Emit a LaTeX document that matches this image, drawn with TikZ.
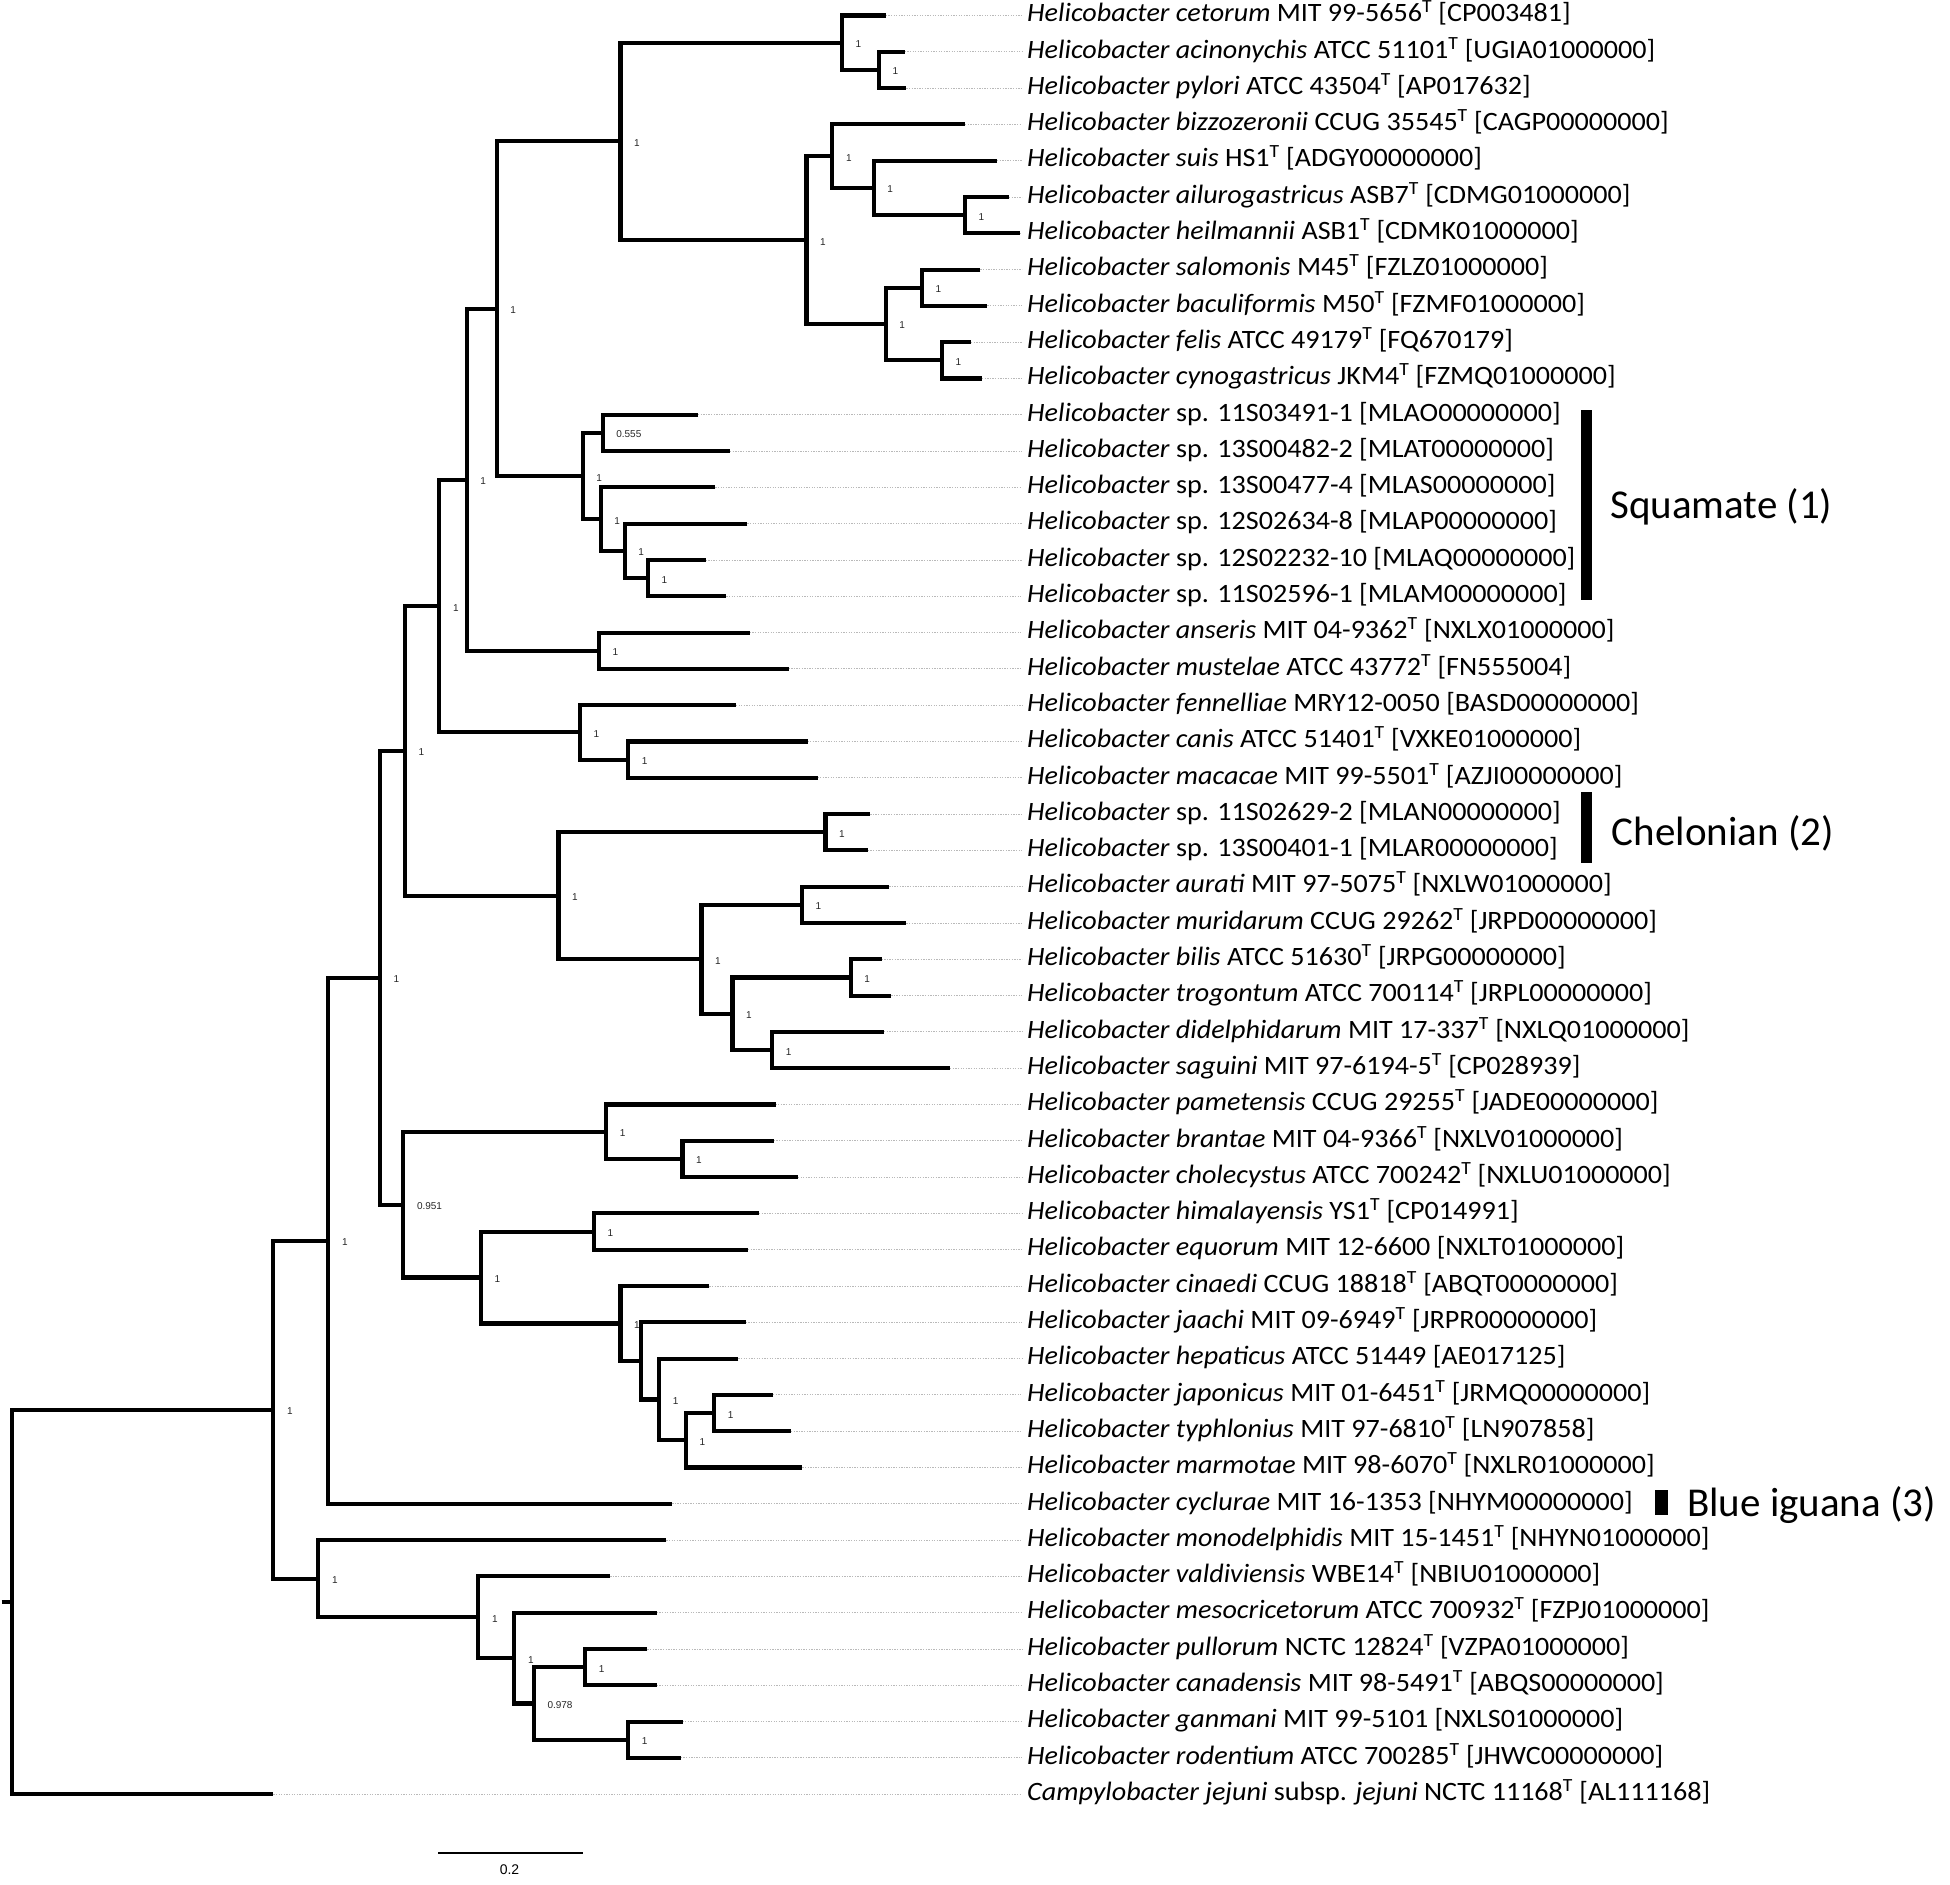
\documentclass[tikz,border=0pt]{standalone}
\usepackage{fontspec}
\setmainfont{Carlito}
\newfontfamily\labfont{Carlito}[FakeStretch=1.06]
\newfontfamily\supfont{Liberation Sans}
\tikzset{
 br/.style={line width=4.1pt, line join=miter, line cap=butt},
 leader/.style={draw=gray!55, line width=0.9pt, dash pattern=on 1.3pt off 1.3pt, shorten >=5pt},
 lab/.style={anchor=west, inner sep=0pt, text height=18.5pt, text depth=6pt, font=\labfont\fontsize{26.5}{30}\selectfont},
 suplab/.style={anchor=west, inner sep=0pt, font=\supfont\fontsize{10}{12}\selectfont, text=black!85},
 grp/.style={anchor=base west, inner sep=0pt, font=\fontsize{41}{48}\selectfont},
 gbar/.style={fill=black, draw=none, inner sep=0pt, minimum width=11pt},
 sbar/.style={line width=1.8pt},
 sbl/.style={inner sep=0pt, font=\supfont\fontsize{14}{16}\selectfont},
}
\newcommand\mkleaf[3]{%
  \pgfmathsetmacro\rowy{15.5+36.3*(#1-1)}%
  \coordinate (t#1) at (#2,\rowy);%
  \node[lab] (l#1) at (1027,\rowy) {#3};%
  \draw[leader] (t#1) -- (l#1.west);%
}
\newcommand\inode[6]{%
  \coordinate (#1) at (#2,#3);%
  \draw[br] (#4) -| (#1) |- (#5);%
  \node[suplab] (s#1) at ([xshift=13.5pt,yshift=-1.5pt]#1) {#6};%
}
\newcommand\inodeq[5]{%
  \coordinate (#1) at (#2,#3);%
  \draw[br] (#4) -| (#1) |- (#5);%
}
\newcommand\T{\textsuperscript{T}}
\newcommand\Hb{\textit{Helicobacter}}
\begin{document}
\begin{tikzpicture}[x=1pt,y=-1pt]
\useasboundingbox (0,0) rectangle (1950,1884);
% leaves
\mkleaf{1}{885.7}{\textit{Helicobacter cetorum} MIT 99-5656\T{} [CP003481]}
\mkleaf{2}{904.7}{\textit{Helicobacter acinonychis} ATCC 51101\T{} [UGIA01000000]}
\mkleaf{3}{906.4}{\textit{Helicobacter pylori} ATCC 43504\T{} [AP017632]}
\mkleaf{4}{965}{\textit{Helicobacter bizzozeronii} CCUG 35545\T{} [CAGP00000000]}
\mkleaf{5}{997}{\textit{Helicobacter suis} HS1\T{} [ADGY00000000]}
\mkleaf{6}{1009}{\textit{Helicobacter ailurogastricus} ASB7\T{} [CDMG01000000]}
\mkleaf{7}{1020}{\textit{Helicobacter heilmannii} ASB1\T{} [CDMK01000000]}
\mkleaf{8}{980.4}{\textit{Helicobacter salomonis} M45\T{} [FZLZ01000000]}
\mkleaf{9}{987.3}{\textit{Helicobacter baculiformis} M50\T{} [FZMF01000000]}
\mkleaf{10}{971}{\textit{Helicobacter felis} ATCC 49179\T{} [FQ670179]}
\mkleaf{11}{982}{\textit{Helicobacter cynogastricus} JKM4\T{} [FZMQ01000000]}
\mkleaf{12}{698}{\Hb{} sp. 11S03491-1 [MLAO00000000]}
\mkleaf{13}{730}{\Hb{} sp. 13S00482-2 [MLAT00000000]}
\mkleaf{14}{715.3}{\Hb{} sp. 13S00477-4 [MLAS00000000]}
\mkleaf{15}{747.3}{\Hb{} sp. 12S02634-8 [MLAP00000000]}
\mkleaf{16}{705.6}{\Hb{} sp. 12S02232-10 [MLAQ00000000]}
\mkleaf{17}{726.3}{\Hb{} sp. 11S02596-1 [MLAM00000000]}
\mkleaf{18}{749.7}{\textit{Helicobacter anseris} MIT 04-9362\T{} [NXLX01000000]}
\mkleaf{19}{788.6}{\textit{Helicobacter mustelae} ATCC 43772\T{} [FN555004]}
\mkleaf{20}{735.9}{\textit{Helicobacter fennelliae} MRY12-0050 [BASD00000000]}
\mkleaf{21}{807.5}{\textit{Helicobacter canis} ATCC 51401\T{} [VXKE01000000]}
\mkleaf{22}{817.5}{\textit{Helicobacter macacae} MIT 99-5501\T{} [AZJI00000000]}
\mkleaf{23}{870.2}{\Hb{} sp. 11S02629-2 [MLAN00000000]}
\mkleaf{24}{867.8}{\Hb{} sp. 13S00401-1 [MLAR00000000]}
\mkleaf{25}{889.2}{\textit{Helicobacter aurati} MIT 97-5075\T{} [NXLW01000000]}
\mkleaf{26}{906.4}{\textit{Helicobacter muridarum} CCUG 29262\T{} [JRPD00000000]}
\mkleaf{27}{881.6}{\textit{Helicobacter bilis} ATCC 51630\T{} [JRPG00000000]}
\mkleaf{28}{891.2}{\textit{Helicobacter trogontum} ATCC 700114\T{} [JRPL00000000]}
\mkleaf{29}{884}{\textit{Helicobacter didelphidarum} MIT 17-337\T{} [NXLQ01000000]}
\mkleaf{30}{950.1}{\textit{Helicobacter saguini} MIT 97-6194-5\T{} [CP028939]}
\mkleaf{31}{775.5}{\textit{Helicobacter pametensis} CCUG 29255\T{} [JADE00000000]}
\mkleaf{32}{773.8}{\textit{Helicobacter brantae} MIT 04-9366\T{} [NXLV01000000]}
\mkleaf{33}{797.9}{\textit{Helicobacter cholecystus} ATCC 700242\T{} [NXLU01000000]}
\mkleaf{34}{759}{\textit{Helicobacter himalayensis} YS1\T{} [CP014991]}
\mkleaf{35}{748}{\textit{Helicobacter equorum} MIT 12-6600 [NXLT01000000]}
\mkleaf{36}{709.4}{\textit{Helicobacter cinaedi} CCUG 18818\T{} [ABQT00000000]}
\mkleaf{37}{745.6}{\textit{Helicobacter jaachi} MIT 09-6949\T{} [JRPR00000000]}
\mkleaf{38}{738.3}{\textit{Helicobacter hepaticus} ATCC 51449 [AE017125]}
\mkleaf{39}{773.1}{\textit{Helicobacter japonicus} MIT 01-6451\T{} [JRMQ00000000]}
\mkleaf{40}{791}{\textit{Helicobacter typhlonius} MIT 97-6810\T{} [LN907858]}
\mkleaf{41}{802.4}{\textit{Helicobacter marmotae} MIT 98-6070\T{} [NXLR01000000]}
\mkleaf{42}{672.2}{\textit{Helicobacter cyclurae} MIT 16-1353 [NHYM00000000]}
\mkleaf{43}{666.3}{\textit{Helicobacter monodelphidis} MIT 15-1451\T{} [NHYN01000000]}
\mkleaf{44}{610.2}{\textit{Helicobacter valdiviensis} WBE14\T{} [NBIU01000000]}
\mkleaf{45}{656.7}{\textit{Helicobacter mesocricetorum} ATCC 700932\T{} [FZPJ01000000]}
\mkleaf{46}{647.4}{\textit{Helicobacter pullorum} NCTC 12824\T{} [VZPA01000000]}
\mkleaf{47}{656.7}{\textit{Helicobacter canadensis} MIT 98-5491\T{} [ABQS00000000]}
\mkleaf{48}{682.5}{\textit{Helicobacter ganmani} MIT 99-5101 [NXLS01000000]}
\mkleaf{49}{680.8}{\textit{Helicobacter rodentium} ATCC 700285\T{} [JHWC00000000]}
\mkleaf{50}{273.3}{\textit{Campylobacter jejuni} subsp. \textit{jejuni} NCTC 11168\T{} [AL111168]}
% internal nodes (bottom-up)
\inode{nV}{878.8}{69.95}{t2}{t3}{1}
\inode{nU}{842}{42.725}{t1}{nV}{1}
\inode{nZ}{965}{215.15}{t6}{t7}{1}
\inode{nY}{873.7}{187.925}{t5}{nZ}{1}
\inode{nX}{832.3}{156.16}{t4}{nY}{1}
\inode{nAB}{921.9}{287.75}{t8}{t9}{1}
\inode{nAC}{941.9}{360.35}{t10}{t11}{1}
\inode{nAA}{885.7}{324.05}{nAB}{nAC}{1}
\inode{nW}{806.5}{240.1}{nX}{nAA}{1}
\inode{nT}{620.5}{141.41}{nU}{nW}{1}
\inode{nSQa}{602.6}{432.95}{t12}{t13}{0.555}
\inode{nSQd}{648}{578.15}{t16}{t17}{1}
\inode{nSQc}{624.7}{550.93}{t15}{nSQd}{1}
\inode{nSQb}{600.6}{519.16}{t14}{nSQc}{1}
\inode{nSQ}{582.7}{476.06}{nSQa}{nSQb}{1}
\inode{nA}{496.7}{308.74}{nT}{nSQ}{1}
\inode{nAM}{598.8}{650.75}{t18}{t19}{1}
\inode{nB}{466.7}{479.74}{nA}{nAM}{1}
\inode{nCM}{628.1}{759.65}{t21}{t22}{1}
\inode{nFE}{579.9}{732.43}{t20}{nCM}{1}
\inode{nC}{439.3}{606.09}{nB}{nFE}{1}
\inode{nCH}{825.5}{832.25}{t23}{t24}{1}
\inode{nAUa}{802}{904.85}{t25}{t26}{1}
\inode{nBT}{850.6}{977.45}{t27}{t28}{1}
\inode{nDS}{772.1}{1050.05}{t29}{t30}{1}
\inode{nAUb}{732.5}{1013.75}{nBT}{nDS}{1}
\inode{nAU}{701.5}{959.3}{nAUa}{nAUb}{1}
\inode{nCHo}{558.5}{895.78}{nCH}{nAU}{1}
\inode{nD}{405}{750.93}{nC}{nCHo}{1}
\inode{nBC}{682.5}{1158.95}{t32}{t33}{1}
\inode{nPM}{606.1}{1131.73}{t31}{nBC}{1}
\inode{nHE}{594}{1231.55}{t34}{t35}{1}
\inode{nJT}{714.2}{1413.05}{t39}{t40}{1}
\inode{nLb}{686}{1440.28}{nJT}{t41}{1}
\inode{nLa}{659.1}{1399.44}{t38}{nLb}{1}
\inodeq{nK}{641.2}{1360.87}{t37}{nLa}
\inode{nJ}{620.5}{1323.44}{t36}{nK}{1}
\inode{nI}{481}{1277.5}{nHE}{nJ}{1}
\inode{nH}{403.3}{1204.61}{nPM}{nI}{0.951}
\inode{nE}{380}{977.77}{nD}{nH}{1}
\inode{nF}{328.3}{1240.79}{nE}{t42}{1}
\inode{nR}{585.1}{1667.15}{t46}{t47}{1}
\inode{nS}{628.1}{1739.75}{t48}{t49}{1}
\inode{nQ}{533.8}{1703.45}{nR}{nS}{0.978}
\inode{nP}{514.3}{1658.08}{t45}{nQ}{1}
\inode{nO}{478.3}{1617.24}{t44}{nP}{1}
\inode{nN}{318.3}{1578.67}{t43}{nO}{1}
\inode{nG}{273.3}{1409.73}{nF}{nN}{1}
\inodeq{nRoot}{11.7}{1601.97}{nG}{t50}
\coordinate (stub) at (1.7,1601.97);
\draw[br] (stub) -- (nRoot);
% group bars and labels
\node[gbar, minimum height=190pt] (bsq) at (1586.2,505) {};
\node[grp] (gsq) at (1610,518.5) {Squamate (1)};
\node[gbar, minimum height=71pt] (bch) at (1586.2,827.2) {};
\node[grp] (gch) at (1611.7,845) {Chelonian (2)};
\node[gbar, minimum width=12.7pt, minimum height=25pt] (bbi) at (1661.3,1502.5) {};
\node[grp] (gbi) at (1687,1516) {Blue iguana (3)};
% scale bar
\coordinate (sba) at (438.3,1853);
\coordinate (sbb) at (582.7,1853);
\draw[sbar] (sba) -- (sbb);
\node[sbl] (sbt) at (509.5,1869.6) {0.2};
\end{tikzpicture}
\end{document}
